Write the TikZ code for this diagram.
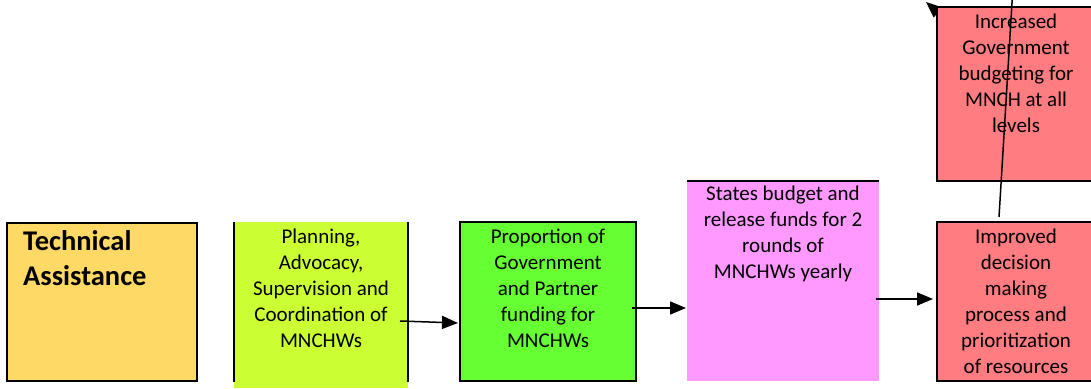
\documentclass[tikz,border=0pt]{standalone}
\usepackage{fontspec}
\setmainfont{Carlito}
\usetikzlibrary{arrows.meta}
\definecolor{taC}{HTML}{FFD966}
\definecolor{planC}{HTML}{CCFF33}
\definecolor{propC}{HTML}{66FF33}
\definecolor{stC}{HTML}{FF99FF}
\definecolor{redC}{HTML}{FF7C80}
\begin{document}
\begin{tikzpicture}[x=1pt,y=1pt,
  box/.style={draw=black, line width=1.5pt, inner sep=0pt, outer sep=0pt, anchor=south west},
  plainbox/.style={draw=none, inner sep=0pt, outer sep=0pt, anchor=south west},
  lbl/.style={font=\fontsize{21}{26}\selectfont, align=center, anchor=north, inner sep=0pt},
  boldlbl/.style={font=\fontsize{28.5}{35}\selectfont\bfseries, align=left, anchor=north west, inner sep=0pt},
  edge/.style={line width=1.5pt},
  arr/.style={line width=1.5pt, -{Triangle[length=16pt,width=13pt]}}]
\useasboundingbox (0,0) rectangle (1091,388);
\clip (0,0) rectangle (1091,388);
% hidden arrow at top (only head visible)
\coordinate (tls) at (965,352);
\coordinate (tle) at (926,386);
\draw[arr] (tls) -- (tle);
% boxes
\node[box, fill=taC, minimum width=190pt, minimum height=158pt] (ta) at (7,7) {};
\node[plainbox, fill=planC, minimum width=174pt, minimum height=166pt] (plan) at (234,0) {};
\draw[edge] (plan.north west) -- ([yshift=6pt]plan.south west);
\draw[edge] (plan.north east) -- ([yshift=6pt]plan.south east);
\node[box, fill=propC, minimum width=176pt, minimum height=159pt] (prop) at (460,7) {};
\node[plainbox, fill=stC, minimum width=192pt, minimum height=200pt] (st) at (687,7) {};
\draw[edge] (st.north west) -- (st.north east);
\node[box, fill=redC, minimum width=158pt, minimum height=159pt] (imp) at (937,7) {};
\node[box, fill=redC, minimum width=158pt, minimum height=174pt] (inc) at (937,207) {};
% texts
\node[boldlbl] (tat) at ([xshift=16pt,yshift=-7pt]ta.north west) {Technical\\Assistance};
\node[lbl] (plant) at ([yshift=-7pt]plan.north) {Planning,\\Advocacy,\\Supervision and\\Coordination of\\MNCHWs};
\node[lbl] (propt) at ([yshift=-7pt]prop.north) {Proportion of\\Government\\and Partner\\funding for\\MNCHWs};
\node[lbl] (stt) at ([yshift=-5pt]st.north) {States budget and\\release funds for 2\\rounds of\\MNCHWs yearly};
\node[lbl] (impt) at ([yshift=-7pt]imp.north) {Improved\\decision\\making\\process and\\prioritization\\of resources};
\node[lbl] (inct) at ([yshift=-7pt]inc.north) {Increased\\Government\\budgeting for\\MNCH at all\\levels};
% connectors
\coordinate (a1s) at (400,67);
\coordinate (a1e) at (458,65);
\draw[arr] (a1s) -- (a1e);
\coordinate (a2s) at (632,80);
\coordinate (a2e) at (686,80);
\draw[arr] (a2s) -- (a2e);
\coordinate (a3s) at (876,89);
\coordinate (a3e) at (933,89);
\draw[arr] (a3s) -- (a3e);
\coordinate (a4s) at (999,171);
\coordinate (a4e) at (1013.5,410);
\draw[arr] (a4s) -- (a4e);
\end{tikzpicture}
\end{document}
